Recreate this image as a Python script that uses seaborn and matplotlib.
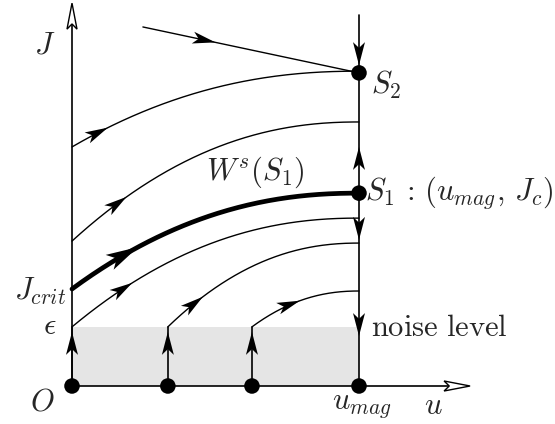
import numpy as np
import pandas as pd
import matplotlib
matplotlib.use("Agg")
import matplotlib.pyplot as plt
import seaborn as sns

sns.set_theme(style="white")
plt.rcParams["mathtext.fontset"] = "cm"
plt.rcParams["font.family"] = ["DejaVu Serif"]

# ---------------- data (u_mag = 1) ----------------
u_mag = 1.0
eps = 0.206
J_crit = 0.338
J_c = 0.672           # S1
J_S2 = 1.091          # S2
bottom_u = [0.0, 0.334, 0.627, 1.0]          # fixed points on J = 0
# trajectories: start u, start J, end J (all end at u_mag), arrow tip u, thick?
traj_u0 = [0.0, 0.0, 0.0, 0.0, 0.334, 0.627]
traj_J0 = [0.833, 0.505, J_crit, eps, eps, eps]
traj_J1 = [1.097, 0.920, J_c, 0.585, 0.498, 0.331]
traj_arrow_u = [0.125, 0.19, 0.23, 0.21, 0.456, 0.794]
traj_thick = [False, False, True, False, False, False]
# incoming trajectory toward S2 from above
top_u = [0.247, 1.0]
top_J = [1.251, J_S2]
top_arrow_u = 0.50
# arrows on the u = u_mag line: (tip J, direction)
right_arrow_J = [1.118, 0.833, 0.509, 0.174]
right_arrow_dir = [-1, 1, -1, -1]
right_line_top = 1.293
axis_u_max = 1.387
axis_J_max = 1.334

PX = 287.0  # pixels per data unit

fig = plt.figure(figsize=(5.55, 4.24), dpi=100)
ax = fig.add_axes([0, 0, 1, 1])
ax.set_xlim(-72 / PX, (555 - 72) / PX)
ax.set_ylim((386 - 424) / PX, 386 / PX)
ax.axis("off")

LKW = dict(estimator=None, errorbar=None, sort=False, color="black", ax=ax)


def head(tip, d, length=23 / PX, width=12 / PX, scale=1.0):
    d = np.asarray(d, float)
    d = d / np.hypot(*d)
    n = np.array([-d[1], d[0]])
    tip = np.asarray(tip, float)
    L = length * scale
    W = width * scale
    base = tip - d * L
    notch = tip - d * L * 0.75
    pts = np.array([tip, base + n * W / 2, notch, base - n * W / 2])
    ax.fill(pts[:, 0], pts[:, 1], color="black", lw=0, zorder=6)


# shaded noise band
ax.fill_between([0, u_mag], 0, eps, color="#e5e5e5", lw=0, zorder=0)

# axes with open arrows
sns.lineplot(x=[0, 0], y=[0, axis_J_max - 0.07], lw=1.2, zorder=3, **LKW)
sns.lineplot(x=[0, axis_u_max - 0.07], y=[0, 0], lw=1.2, zorder=3, **LKW)
for tip, d in [((0, axis_J_max), (0, 1)), ((axis_u_max, 0), (1, 0))]:
    d = np.array(d, float)
    n = np.array([-d[1], d[0]])
    t = np.array(tip)
    L, W = 26 / PX, 10 / PX
    pts = np.array([t, t - d * L + n * W / 2, t - d * L * 0.8, t - d * L - n * W / 2, t])
    ax.fill(pts[:, 0], pts[:, 1], facecolor="white", edgecolor="black", lw=1.0, zorder=5)

# right vertical line
sns.lineplot(x=[u_mag, u_mag], y=[0, right_line_top], lw=1.2, zorder=3, **LKW)
for jt, dr in zip(right_arrow_J, right_arrow_dir):
    head((u_mag, jt), (0, dr))

# vertical arrows from bottom fixed points
for ub in bottom_u[:3]:
    sns.lineplot(x=[ub, ub], y=[0, eps], lw=1.2, zorder=3, **LKW)
    head((ub, eps - 5 / PX), (0, 1))

# trajectories
p = 2.2
for u0, J0, J1, ua, thick in zip(traj_u0, traj_J0, traj_J1, traj_arrow_u, traj_thick):
    uu = np.linspace(u0, u_mag, 200)
    jj = J1 - (J1 - J0) * ((u_mag - uu) / (u_mag - u0)) ** p
    df = pd.DataFrame({"u": uu, "J": jj})
    sns.lineplot(data=df, x="u", y="J", lw=3.4 if thick else 1.0, zorder=4, **LKW)
    ja = J1 - (J1 - J0) * ((u_mag - ua) / (u_mag - u0)) ** p
    slope = p * (J1 - J0) / (u_mag - u0) * ((u_mag - ua) / (u_mag - u0)) ** (p - 1)
    head((ua, ja), (1, slope), scale=1.4 if thick else 1.0)

# incoming line to S2
sns.lineplot(x=top_u, y=top_J, lw=1.0, zorder=4, **LKW)
ja = np.interp(top_arrow_u, top_u, top_J)
head((top_arrow_u, ja), (top_u[1] - top_u[0], top_J[1] - top_J[0]))

# fixed points
pts = pd.DataFrame({"u": bottom_u + [u_mag, u_mag], "J": [0, 0, 0, 0, J_c, J_S2]})
sns.scatterplot(data=pts, x="u", y="J", color="black", s=125, edgecolor="none", ax=ax, zorder=7)


def P(px, py):
    return ((px - 72) / PX, (386 - py) / PX)


fs = 22
ax.text(*P(45, 45), r"$J$", fontsize=fs, ha="center", va="center")
ax.text(*P(371, 85), r"$S_2$", fontsize=fs, ha="left", va="center")
ax.text(*P(365, 193), r"$S_1\,:\,(u_{mag},\,J_c)$", fontsize=fs, ha="left", va="center")
ax.text(*P(255, 172), r"$W^s(S_1)$", fontsize=fs, ha="center", va="center")
ax.text(*P(66, 291), r"$J_{crit}$", fontsize=fs, ha="right", va="center")
ax.text(*P(50, 326), r"$\epsilon$", fontsize=fs, ha="center", va="center")
ax.text(*P(42, 402), r"$O$", fontsize=fs, ha="center", va="center")
ax.text(*P(362, 405), r"$u_{mag}$", fontsize=fs, ha="center", va="center")
ax.text(*P(433, 405), r"$u$", fontsize=fs, ha="center", va="center")
ax.text(*P(371, 328), r"$\mathrm{noise\ level}$", fontsize=fs, ha="left", va="center")

if ax.get_legend() is not None:
    ax.get_legend().remove()
fig.savefig("out.png", dpi=100)
